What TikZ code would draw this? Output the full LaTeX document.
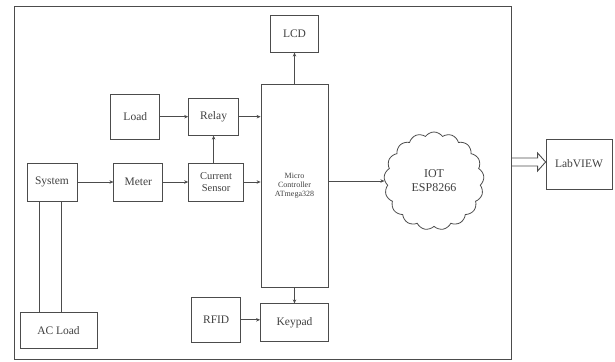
\documentclass[tikz,border=0pt]{standalone}
\usepackage{fontspec}
\setmainfont{Liberation Serif}
\usetikzlibrary{positioning,arrows.meta,shapes.symbols}

\begin{document}
\begin{tikzpicture}[x=1pt, y=-1pt, >={Stealth[length=4pt,width=3.5pt]},
    every node/.style={align=center, font=\fontsize{11.5}{13}\selectfont, text=black!75},
    blk/.style={draw=black!70, line width=0.8pt},
    line/.style={draw=black!70, line width=0.7pt}]
  \useasboundingbox (0,0) rectangle (615,361);

  \node[blk, line width=1pt, minimum width=497pt, minimum height=352pt] (frame) at (262.5,183) {};

  \node[blk, minimum width=67pt, minimum height=203pt, font=\fontsize{8}{9}\selectfont] (mc) at (294.5,185.5) {Micro\\ Controller\\ ATmega328};
  \node[blk, above=31pt of mc, minimum width=48pt, minimum height=37pt] (lcd) {LCD};
  \node[blk, below=16pt of mc, minimum width=68pt, minimum height=38pt] (keypad) {Keypad};
  \node[blk, left=19pt of keypad, yshift=3pt, minimum width=49pt, minimum height=45pt] (rfid) {RFID};

  \node[blk, minimum width=50pt, minimum height=38pt] (system) at (52,182) {System};
  \node[blk, right=36pt of system, minimum width=49pt, minimum height=38pt] (meter) {Meter};
  \node[blk, right=25pt of meter, minimum width=55pt, minimum height=38pt, inner sep=1pt, font=\fontsize{10.5}{12}\selectfont] (sensor) {Current\\ Sensor};
  \node[blk, above=27pt of sensor, xshift=-2.5pt, minimum width=50pt, minimum height=37pt] (relay) {Relay};
  \node[blk, left=28pt of relay, minimum width=49pt, minimum height=45pt] (load) {Load};
  \node[blk, below=111pt of system, xshift=6.5pt, minimum width=77pt, minimum height=36pt] (acload) {AC Load};

  \node[blk, cloud, cloud puffs=17, cloud puff arc=110, aspect=1, minimum width=100pt, minimum height=98pt, font=\fontsize{12}{14}\selectfont] (iot) at (434,181) {IOT\\ ESP8266};
  \node[blk, minimum width=66pt, minimum height=50pt, inner sep=1pt] (labview) at (579,164) {LabVIEW};

  \draw[line, ->] (load) -- (relay);
  \draw[line, ->] (relay.east) -- (relay -| mc.west);
  \draw[line, ->] (sensor.north -| relay) -- (relay);
  \draw[line, ->] (system) -- (meter);
  \draw[line, ->] (meter) -- (sensor);
  \draw[line, ->] (sensor.east) -- (sensor -| mc.west);
  \draw[line, ->] (mc) -- (lcd);
  \draw[line, ->] (mc) -- (keypad);
  \draw[line, ->] (rfid.east) -- (rfid -| keypad.west);
  \draw[line, ->] (mc.east |- iot.west) -- (iot.west);
  \draw[line] ([xshift=-13pt]system.south) -- ([xshift=-13pt]system.south |- acload.north);
  \draw[line] ([xshift=9pt]system.south) -- ([xshift=9pt]system.south |- acload.north);

  % hollow arrow to LabVIEW
  \coordinate (tip) at (labview.west |- 0,162);
  \draw[line, line width=0.9pt, line join=miter]
    (frame.east |- 0,158) -- ([xshift=-8pt, yshift=4pt]tip) -- ([xshift=-8pt, yshift=9pt]tip)
    -- (tip) -- ([xshift=-8pt, yshift=-9pt]tip) -- ([xshift=-8pt, yshift=-4pt]tip) -- (frame.east |- 0,166);
\end{tikzpicture}
\end{document}
